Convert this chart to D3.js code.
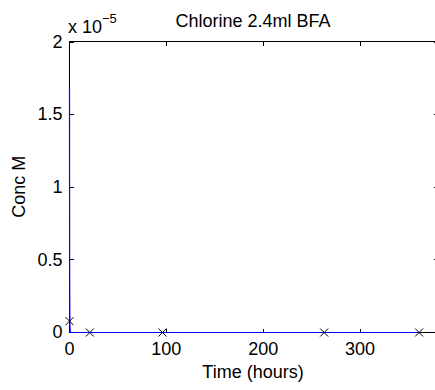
<!DOCTYPE html>
<html><head><meta charset="utf-8">
<script src="https://cdn.jsdelivr.net/npm/d3@7"></script>
<style>
body{margin:0;background:#fff}
svg{display:block}
text{font-family:"Liberation Sans",Arial,Helvetica,sans-serif;fill:#000}
</style>
</head><body><svg id="c" width="435" height="390"></svg>
<script>
const title = "Chlorine 2.4ml BFA";
const xLabel = "Time (hours)";
const yLabel = "Conc M";
const xTicks = [0, 100, 200, 300];
const yTicks = [0, 0.5, 1, 1.5, 2];          // in units of 10^-5
const yTickLabels = ["0", "0.5", "1", "1.5", "2"];
const exponent = "\u22125";
// observed data (markers), conc in units of 10^-5 M
const obsTime = [0, 21, 96, 263, 361];
const obsConc = [0.078, 0, 0, 0, 0];
// model curve (blue line), conc in units of 10^-5 M
const modelTime = [0, 0.05, 0.1, 0.2, 0.4, 0.8, 1.5, 21, 96, 263, 361];
const modelConc = [1.69, 1.1, 0.7, 0.3, 0.06, 0.005, 0, 0, 0, 0, 0];

const FS = 18;
const L = 69, R = 437, T = 41.5, B = 332;
const svg = d3.select("#c");

const x = d3.scaleLinear().domain([0, 380]).range([L, R]);
const y = d3.scaleLinear().domain([0, 2]).range([B, T]);

// box
svg.append("rect").attr("x", L + 0.5).attr("y", T).attr("width", R - L).attr("height", B - T + 0.5)
  .attr("fill", "none").attr("stroke", "#000").attr("stroke-width", 1).attr("shape-rendering", "crispEdges");

function styleAxis(g) {
  g.select(".domain").remove();
  g.selectAll("line").attr("stroke", "#000").attr("shape-rendering", "crispEdges");
  g.selectAll("text").attr("font-size", FS).attr("font-family", "Liberation Sans, Arial, sans-serif").attr("fill", "#000");
}

svg.append("g").attr("transform", `translate(0,${B + 0.5})`)
  .call(d3.axisBottom(x).tickValues(xTicks).tickSize(-4).tickPadding(10).tickFormat(d3.format("d")))
  .call(styleAxis);
svg.append("g").attr("transform", `translate(0,${T})`)
  .call(d3.axisTop(x).tickValues(xTicks).tickSize(-4).tickFormat(""))
  .call(styleAxis);
svg.append("g").attr("transform", `translate(${L + 0.5},0)`)
  .call(d3.axisLeft(y).tickValues(yTicks).tickSize(-4).tickPadding(7).tickFormat((d, i) => yTickLabels[i]))
  .call(styleAxis);
svg.append("g").attr("transform", `translate(${R + 0.5},0)`)
  .call(d3.axisRight(y).tickValues(yTicks).tickSize(-4).tickFormat(""))
  .call(styleAxis);

// model line
const line = d3.line().x((d, i) => x(modelTime[i]) + 0.5).y((d, i) => y(modelConc[i]) + 0.5);
svg.append("path").datum(modelTime).attr("d", line)
  .attr("fill", "none").attr("stroke", "#0000ff").attr("stroke-width", 1.2);

// markers
const ms = 4;
const mk = svg.append("g").attr("stroke", "#000").attr("stroke-width", 1);
obsTime.forEach((t, i) => {
  const cx = x(t) + 0.5, cy = y(obsConc[i]) + 0.5;
  mk.append("path").attr("d", `M${cx - ms},${cy - ms}L${cx + ms},${cy + ms}M${cx - ms},${cy + ms}L${cx + ms},${cy - ms}`);
});

// exponent label
const ex = svg.append("text").attr("x", L - 1).attr("y", 33).attr("font-size", FS);
ex.append("tspan").text("x 10");
ex.append("tspan").attr("font-size", 13).attr("dy", -10).text(exponent);

// title and labels
svg.append("text").attr("x", (L + R) / 2).attr("y", 27).attr("text-anchor", "middle").attr("font-size", FS).text(title);
svg.append("text").attr("x", (L + R) / 2).attr("y", 378).attr("text-anchor", "middle").attr("font-size", FS).text(xLabel);
svg.append("text").attr("transform", `translate(25,${(T + B) / 2}) rotate(-90)`).attr("text-anchor", "middle").attr("font-size", FS).text(yLabel);
</script>
</body></html>
